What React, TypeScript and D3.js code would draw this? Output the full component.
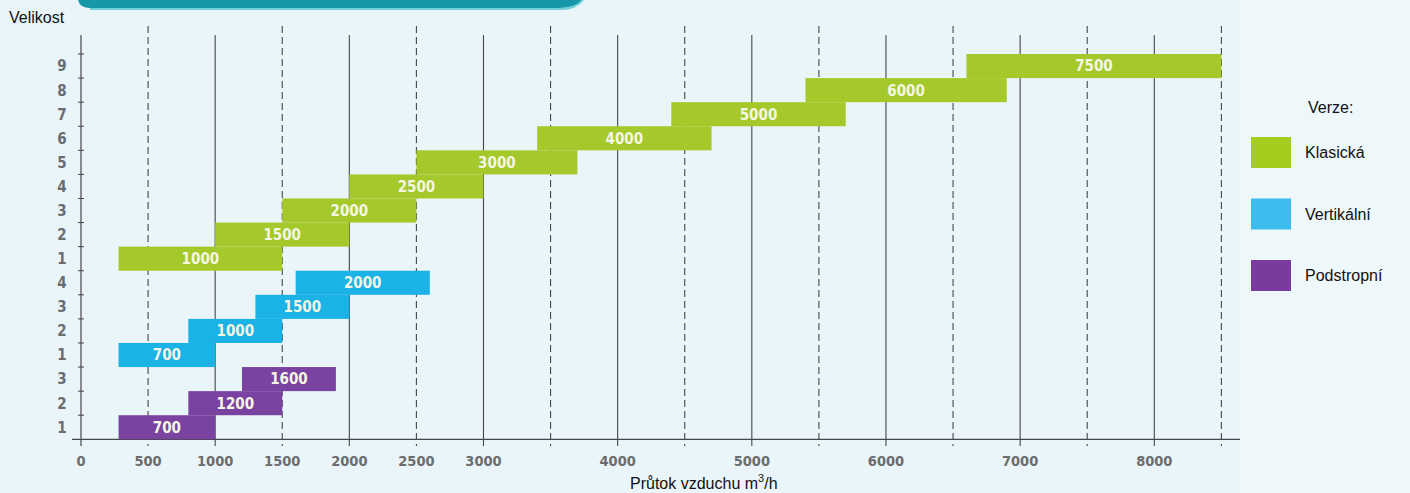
import React from "react";
import * as d3 from "d3";

// version names and legend colours
const versions = ["Klasická", "Vertikální", "Podstropní"];
const versionColors = ["#a5c92b", "#1bb2e6", "#7b43a1"];
const legendColors = ["#a3cc1f", "#3dbdee", "#7a3b9f"];

// Klasická: size, flow label, range of flow
const klasickaSizes = [1, 2, 3, 4, 5, 6, 7, 8, 9];
const klasickaLabels = [1000, 1500, 2000, 2500, 3000, 4000, 5000, 6000, 7500];
const klasickaFrom = [280, 1000, 1500, 2000, 2500, 3400, 4400, 5400, 6600];
const klasickaTo = [1500, 2000, 2500, 3000, 3700, 4700, 5700, 6900, 8500];

// Vertikální
const vertikalniSizes = [1, 2, 3, 4];
const vertikalniLabels = [700, 1000, 1500, 2000];
const vertikalniFrom = [280, 800, 1300, 1600];
const vertikalniTo = [1000, 1500, 2000, 2600];

// Podstropní
const podstropniSizes = [1, 2, 3];
const podstropniLabels = [700, 1200, 1600];
const podstropniFrom = [280, 800, 1200];
const podstropniTo = [1000, 1500, 1900];

// x axis labels and grid lines
const xTickLabels = [0, 500, 1000, 1500, 2000, 2500, 3000, 4000, 5000, 6000, 7000, 8000];
const gridValues = d3.range(500, 9000, 500);

const W = 1410;
const H = 493;
const numFont = "'DejaVu Sans Condensed', 'DejaVu Sans', sans-serif";
const txtFont = "'Liberation Sans', Arial, sans-serif";

type Bar = { key: string; version: number; size: number; label: number; from: number; to: number };

const groups = [
  { sizes: klasickaSizes, labels: klasickaLabels, from: klasickaFrom, to: klasickaTo },
  { sizes: vertikalniSizes, labels: vertikalniLabels, from: vertikalniFrom, to: vertikalniTo },
  { sizes: podstropniSizes, labels: podstropniLabels, from: podstropniFrom, to: podstropniTo },
];

const bars: Bar[] = [];
groups.forEach((g, vi) => {
  g.sizes.forEach((s, i) => {
    bars.push({ key: `${vi}-${s}`, version: vi, size: s, label: g.labels[i], from: g.from[i], to: g.to[i] });
  });
});

// rows top to bottom: Klasická 9..1, Vertikální 4..1, Podstropní 3..1
const rowKeys = groups.flatMap((g, vi) => [...g.sizes].reverse().map((s) => `${vi}-${s}`));

export default function App() {
  const x = d3.scaleLinear().domain([0, 8000]).range([81, 1154.3]);
  const y = d3.scaleBand().domain(rowKeys).range([54, 439.3]).padding(0);
  const axisY = 439.3;
  const gridTop = 35;
  const gridBottom = 446;

  return (
    <svg width={W} height={H} style={{ position: "absolute", left: 0, top: 0 }}>
      <rect width={W} height={H} fill="#eaf5f9" />
      <path d="M1240,0 L1410,0 L1410,493 L1240,493 Z" fill="#eef7fa" />
      {/* header banner */}
      <path d="M78,0 L582,0 L582,0 Q575,8 560,8 L90,8 Q80,8 78,0 Z" fill="#1798a8" />
      <path d="M90,8 L560,8 Q575,8 582,0 L584,0 Q577,10 560,10 L90,10 Z" fill="#6fd0dc" />

      {/* grid lines */}
      {gridValues.map((v) => {
        const dashed = v % 1000 !== 0;
        return (
          <line
            key={v}
            x1={x(v)}
            x2={x(v)}
            y1={dashed ? 26 : gridTop}
            y2={gridBottom}
            stroke="#45474a"
            strokeWidth={1.1}
            strokeDasharray={dashed ? "7,4" : undefined}
          />
        );
      })}

      {/* axes */}
      <line x1={x(0)} x2={x(0)} y1={gridTop} y2={gridBottom} stroke="#45474a" strokeWidth={1.2} />
      <line x1={72} x2={1240} y1={axisY} y2={axisY} stroke="#45474a" strokeWidth={1.2} />
      {rowKeys.map((k) => (
        <line key={k} x1={x(0) - 3} x2={x(0) + 3} y1={y(k)!} y2={y(k)!} stroke="#45474a" strokeWidth={1} />
      ))}

      {/* bars */}
      {bars.map((b) => (
        <rect
          key={b.key}
          x={x(b.from)}
          width={x(b.to) - x(b.from)}
          y={y(b.key)!}
          height={y.bandwidth()}
          fill={versionColors[b.version]}
        />
      ))}
      {bars.map((b) => (
        <text
          key={"t" + b.key}
          x={(x(b.from) + x(b.to)) / 2}
          y={y(b.key)! + y.bandwidth() / 2}
          dy="0.36em"
          textAnchor="middle"
          fontFamily={numFont}
          fontWeight="bold"
          fontSize={15}
          fill="#f5f7e4"
        >
          {b.label}
        </text>
      ))}

      {/* y tick labels */}
      {bars.map((b) => (
        <text
          key={"y" + b.key}
          x={62}
          y={y(b.key)! + y.bandwidth() / 2}
          dy="0.36em"
          textAnchor="middle"
          fontFamily={numFont}
          fontWeight="bold"
          fontSize={15}
          fill="#6a6c6e"
        >
          {b.size}
        </text>
      ))}

      {/* x tick labels */}
      {xTickLabels.map((v) => (
        <text
          key={"x" + v}
          x={x(v)}
          y={461}
          dy="0.36em"
          textAnchor="middle"
          fontFamily={numFont}
          fontWeight="bold"
          fontSize={14.5}
          fill="#6a6c6e"
        >
          {v}
        </text>
      ))}

      <text x={9} y={23} fontFamily={txtFont} fontSize={16} fill="#111">
        Velikost
      </text>
      <text x={630} y={489} fontFamily={txtFont} fontSize={16} fill="#111">
        Průtok vzduchu m<tspan dy={-7} fontSize={11}>3</tspan>
        <tspan dy={7}>/h</tspan>
      </text>

      {/* legend */}
      <text x={1308} y={113} fontFamily={txtFont} fontSize={16} fill="#111">
        Verze:
      </text>
      {versions.map((v, i) => (
        <g key={v} transform={`translate(1251, ${137 + i * 61.5})`}>
          <rect width={40} height={31} fill={legendColors[i]} />
          <text x={54} y={15.5} dy="0.36em" fontFamily={txtFont} fontSize={16} fill="#111">
            {v}
          </text>
        </g>
      ))}
    </svg>
  );
}
